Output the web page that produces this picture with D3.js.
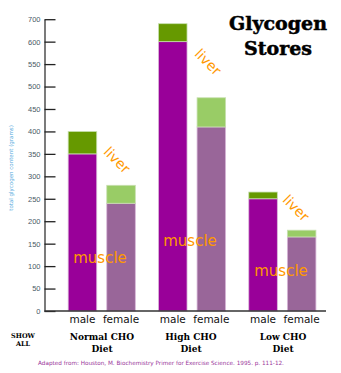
<!DOCTYPE html>
<html>
<head>
<meta charset="utf-8">
<script src="https://cdn.jsdelivr.net/npm/d3@7"></script>
<style>
  body { margin: 0; background: #fff; }
  svg { display: block; }
</style>
</head>
<body>
<div id="chart"></div>
<script>
// glycogen stores (grams) per diet and sex
let diets = ["Normal CHO", "High CHO", "Low CHO"];
let sexes = ["male", "female"];
let muscle = [[350, 240], [600, 410], [250, 165]];
let liver = [[50, 40], [40, 65], [15, 15]];

// y axis ticks; the top one carries the label "700"
let tickValues = [0, 50, 100, 150, 200, 250, 300, 350, 400, 450, 500, 550, 600, 650];
let tickLabels = ["0", "50", "100", "150", "200", "250", "300", "350", "400", "450", "500", "550", "600", "700"];

let width = 341, height = 373;
let svg = d3.select("#chart").append("svg")
  .attr("width", width)
  .attr("height", height)
  .style("font-family", "'DejaVu Sans', Verdana, sans-serif");

let x0 = 44.5, yBase = 311;

let yscale = d3.scaleLinear().domain([0, 650]).range([yBase, 19.2]);

let groupX = d3.scaleBand().domain(diets).range([56.6, 327.5]).paddingInner(0);
let barX = d3.scaleBand().domain(sexes).range([0, groupX.bandwidth()]).paddingInner(0.26).paddingOuter(0.3);

let colors = {
  male: { muscle: "#990099", liver: "#669900" },
  female: { muscle: "#996699", liver: "#99cc66" }
};

// stacked bars
diets.forEach(function (d, i) {
  let g = svg.append("g").attr("transform", "translate(" + groupX(d) + ",0)");
  sexes.forEach(function (s, j) {
    let m = muscle[i][j], l = liver[i][j];
    g.append("rect")
      .attr("x", barX(s))
      .attr("width", barX.bandwidth())
      .attr("y", yscale(m))
      .attr("height", yscale(0) - yscale(m))
      .attr("fill", colors[s].muscle)
      .attr("stroke", "#d9b8d9")
      .attr("stroke-width", 0.8);
    g.append("rect")
      .attr("x", barX(s))
      .attr("width", barX.bandwidth())
      .attr("y", yscale(m + l))
      .attr("height", yscale(m) - yscale(m + l))
      .attr("fill", colors[s].liver)
      .attr("stroke", "#c8e0b0")
      .attr("stroke-width", 0.8);
    g.append("text")
      .attr("x", barX(s) + barX.bandwidth() / 2)
      .attr("y", 323)
      .attr("text-anchor", "middle")
      .attr("font-size", 10.5)
      .attr("fill", "#111")
      .text(s);
  });
});

// y axis
let yAxis = d3.axisRight(yscale)
  .tickValues(tickValues)
  .tickFormat(function (d, i) { return tickLabels[i]; })
  .tickSize(11)
  .tickSizeOuter(0);

let ax = svg.append("g")
  .attr("transform", "translate(" + x0 + ",0)")
  .call(yAxis);
ax.select(".domain").attr("stroke", "#333").attr("stroke-width", 1.3);
ax.selectAll(".tick line").attr("stroke", "#222").attr("stroke-width", 1.3);
ax.selectAll(".tick text")
  .attr("x", -4)
  .attr("text-anchor", "end")
  .attr("font-size", 7.5)
  .attr("fill", "#4a5a66");

// baseline
svg.append("line")
  .attr("x1", x0).attr("x2", 326)
  .attr("y1", yBase).attr("y2", yBase)
  .attr("stroke", "#333").attr("stroke-width", 1.3);

svg.append("text")
  .attr("transform", "translate(13," + 168 + ") rotate(-90)")
  .attr("text-anchor", "middle")
  .attr("font-size", 5.5)
  .attr("fill", "#55aadd")
  .text("total glycogen content (grams)");

// orange series labels
let livers = [[117, 160], [208, 62], [296, 208]];
let muscles = [[100, 263], [190, 246], [281, 276]];
livers.forEach(function (p) {
  svg.append("text")
    .attr("transform", "translate(" + p[0] + "," + p[1] + ") rotate(45)")
    .attr("text-anchor", "middle")
    .attr("dy", "0.35em")
    .attr("font-size", 14)
    .attr("fill", "#ff9900")
    .text("liver");
});
muscles.forEach(function (p) {
  svg.append("text")
    .attr("x", p[0]).attr("y", p[1])
    .attr("text-anchor", "middle")
    .attr("font-size", 15)
    .attr("fill", "#ff9900")
    .text("muscle");
});

// diet labels under groups
let dietLabelX = [102, 191, 283];
diets.forEach(function (d, i) {
  let t = svg.append("text")
    .attr("text-anchor", "middle")
    .attr("font-family", "'DejaVu Serif', serif")
    .attr("font-weight", "bold")
    .attr("font-size", 9)
    .attr("fill", "#000");
  t.append("tspan").attr("x", dietLabelX[i]).attr("y", 340).text(d);
  t.append("tspan").attr("x", dietLabelX[i]).attr("y", 352).text("Diet");
});

let show = svg.append("text")
  .attr("text-anchor", "middle")
  .attr("font-family", "'DejaVu Serif', serif")
  .attr("font-weight", "bold")
  .attr("font-size", 6.5)
  .attr("fill", "#000");
show.append("tspan").attr("x", 23).attr("y", 338).text("SHOW");
show.append("tspan").attr("x", 23).attr("y", 346).text("ALL");

// title
let title = svg.append("text")
  .attr("text-anchor", "middle")
  .attr("font-family", "'DejaVu Serif', serif")
  .attr("font-weight", "bold")
  .attr("font-size", 19)
  .attr("fill", "#000")
  .attr("stroke", "#000")
  .attr("stroke-width", 0.5);
title.append("tspan").attr("x", 278).attr("y", 30).text("Glycogen");
title.append("tspan").attr("x", 278).attr("y", 55).text("Stores");

svg.append("text")
  .attr("x", 161).attr("y", 365)
  .attr("text-anchor", "middle")
  .attr("font-size", 5.7)
  .attr("fill", "#993399")
  .text("Adapted from: Houston, M. Biochemistry Primer for Exercise Science. 1995. p. 111-12.");
</script>
</body>
</html>
